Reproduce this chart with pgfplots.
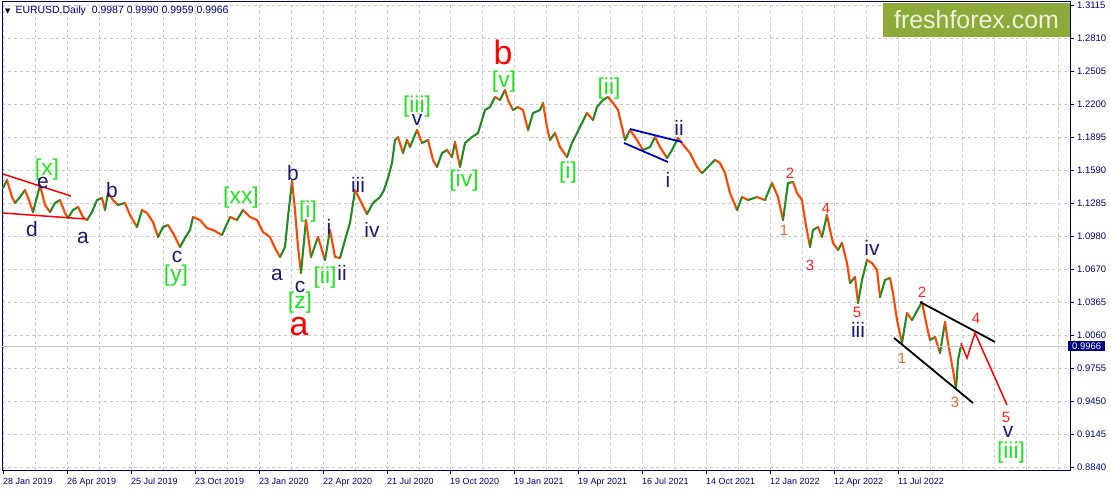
\documentclass[border=0pt]{standalone}
\usepackage{pgfplots}
\usepackage{pgfplotstable}
\pgfplotsset{compat=1.18}
\usepackage{fontspec}
\setmainfont{Liberation Sans}
\newfontfamily\dejavu{DejaVu Sans}

\definecolor{mtnavy}{RGB}{0,0,128}
\definecolor{lblnavy}{RGB}{25,25,112}
\definecolor{wavegreen}{RGB}{30,230,30}
\definecolor{candleup}{RGB}{34,139,34}
\definecolor{candledn}{RGB}{255,69,0}
\definecolor{gridgray}{RGB}{200,200,200}
\definecolor{wmolive}{RGB}{141,170,58}
\definecolor{numred}{RGB}{255,30,30}
\definecolor{numorange}{RGB}{230,100,40}

\newcommand\navyf{\fontsize{21}{21}\selectfont}
\newcommand\greenf{\fontsize{23}{23}\selectfont}
\newcommand\bigf{\fontsize{34}{34}\selectfont}
\newcommand\numf{\fontsize{15}{15}\selectfont}

% EURUSD daily closes, x = bar number from 28 Jan 2019
\pgfplotstableread{
x c
0 1.1426
4 1.1500
9 1.1343
12 1.1288
17 1.1343
22 1.1408
27 1.1288
30 1.1204
34 1.1343
37 1.1454
42 1.1269
47 1.1204
52 1.1288
57 1.1315
62 1.1195
65 1.1149
70 1.1223
75 1.1251
80 1.1158
84 1.1130
89 1.1204
94 1.1315
99 1.1334
102 1.1223
105 1.1380
110 1.1315
115 1.1269
122 1.1288
127 1.1177
134 1.1066
139 1.1223
144 1.1195
150 1.1112
155 1.0973
160 1.1066
165 1.1084
170 1.1010
177 1.0881
182 1.0964
187 1.1038
190 1.1158
197 1.1130
204 1.1056
210 1.1038
219 1.0992
227 1.1158
234 1.1130
240 1.1223
247 1.1158
254 1.1130
260 1.1019
267 1.0973
272 1.0871
277 1.0788
282 1.0881
285 1.1158
289 1.1491
292 1.1223
295 1.0881
298 1.0640
303 1.1130
308 1.0788
315 1.0973
322 1.0760
327 1.1038
332 1.0788
337 1.0779
342 1.0945
347 1.1103
352 1.1408
357 1.1315
364 1.1186
370 1.1288
377 1.1343
381 1.1408
385 1.1519
389 1.1658
392 1.1871
395 1.1898
400 1.1750
404 1.1871
407 1.1806
414 1.1963
419 1.1843
425 1.1871
430 1.1686
434 1.1621
439 1.1750
444 1.1778
449 1.1713
452 1.1852
457 1.1621
462 1.1843
469 1.1898
475 1.1935
479 1.2056
482 1.2148
487 1.2176
492 1.2268
497 1.2241
502 1.2333
505 1.2241
510 1.2148
515 1.2176
520 1.2148
525 1.1963
530 1.2120
537 1.2148
540 1.2213
544 1.1991
547 1.1871
552 1.1935
557 1.1806
564 1.1713
569 1.1843
574 1.1935
579 1.2028
584 1.2120
590 1.2056
594 1.2176
600 1.2241
605 1.2268
610 1.2213
615 1.2148
619 1.1991
622 1.1871
627 1.1963
634 1.1871
640 1.1778
647 1.1806
652 1.1898
657 1.1806
664 1.1704
669 1.1778
675 1.1889
682 1.1806
687 1.1750
694 1.1621
699 1.1565
705 1.1621
712 1.1686
717 1.1658
722 1.1565
727 1.1380
734 1.1223
739 1.1343
745 1.1315
754 1.1343
762 1.1315
769 1.1473
775 1.1343
780 1.1130
785 1.1473
790 1.1482
794 1.1380
799 1.1315
802 1.1130
807 1.0881
810 1.1038
815 1.1066
819 1.0973
824 1.1177
827 1.1038
830 1.0918
835 1.0853
839 1.0918
844 1.0732
847 1.0547
852 1.0603
855 1.0362
859 1.0575
864 1.0760
869 1.0732
874 1.0668
877 1.0418
882 1.0575
887 1.0594
890 1.0455
894 1.0205
899 0.9992
904 1.0270
909 1.0205
919 1.0372
924 1.0140
927 1.0020
932 1.0048
937 0.9900
942 1.0187
945 0.9992
950 0.9742
953 0.9570
955 0.9835
958 0.9966
}\eurusd

% colour of each segment: 1 when the next close is higher
\pgfplotstablegetrowsof{\eurusd}
\pgfmathtruncatemacro\lastrow{\pgfplotsretval-1}
\pgfplotstablecreatecol[
  create col/assign/.code={%
    \ifnum\pgfplotstablerow<\lastrow\relax
      \pgfmathtruncatemacro\updn{(\nextrow{c}>\thisrow{c})}%
    \else
      \def\updn{0}%
    \fi
    \pgfkeyslet{/pgfplots/table/create col/next content}\updn
  }]{up}{\eurusd}

\begin{document}
\begin{tikzpicture}
\path[use as bounding box] (-2bp,-21bp) rectangle (1109bp,470bp);
\begin{axis}[
    at={(0,0)}, anchor=south west,
    scale only axis, width=1068bp, height=469bp,
    xmin=-1, xmax=1067, ymin=0.8817, ymax=1.3157,
    clip=false,
    axis line style={mtnavy, line width=0.8bp},
    xtick={0,64,128,192,256,320,384,447,511,575,639,703,767,831,895},
    xticklabels={28 Jan 2019,26 Apr 2019,25 Jul 2019,23 Oct 2019,23 Jan 2020,22 Apr 2020,21 Jul 2020,19 Oct 2020,19 Jan 2021,19 Apr 2021,16 Jul 2021,14 Oct 2021,12 Jan 2022,12 Apr 2022,11 Jul 2022},
    minor xtick={32,96,160,224,288,352,416,479,543,607,671,735,799,863,927,959,991,1023,1055},
    ytick={1.3115,1.28096,1.25043,1.21989,1.18936,1.15882,1.12828,1.09775,1.06721,1.03668,1.00614,0.97560,0.94507,0.91453,0.88400},
    yticklabels={1.3115,1.2810,1.2505,1.2200,1.1895,1.1590,1.1285,1.0980,1.0670,1.0365,1.0060,0.9755,0.9450,0.9145,0.8840},
    xtick pos=left, ytick pos=right, yticklabel pos=right,
    tick align=outside,
    major tick length=4bp, minor tick length=0pt,
    tick style={mtnavy, line width=0.6bp},
    grid=both,
    major grid style={gridgray, dash pattern=on 3bp off 3bp, line width=0.6bp},
    minor grid style={gridgray, dash pattern=on 3bp off 3bp, line width=0.6bp},
    xticklabel style={font=\fontsize{9}{10}\selectfont, text=mtnavy, anchor=north west, inner sep=0pt, yshift=-4bp},
    yticklabel style={font=\fontsize{9.5}{10}\selectfont, text=mtnavy, anchor=west, inner sep=0pt, xshift=3bp},
]

% price path coloured like the candles
\addplot[mesh, shader=flat corner, point meta=\thisrow{up},
    point meta min=0, point meta max=1,
    colormap={updn}{color=(candledn) color=(candleup)},
    colormap access=piecewise constant,
    line width=2.1bp, line cap=round]
    table[x=x, y=c] {\eurusd};

% current price line
\draw[gray!45, line width=0.6bp] (axis cs:-1,0.9966) -- (axis cs:1067,0.9966);

% trend lines
\addplot[red, line width=1.5bp] coordinates {(0,1.1556) (68,1.1352)};
\addplot[red, line width=1.5bp] coordinates {(0,1.1195) (82,1.1140)};
\addplot[blue!80!black, line width=1.8bp] coordinates {(627,1.1972) (679,1.1852)};
\addplot[blue!80!black, line width=1.8bp] coordinates {(621,1.1843) (665,1.1667)};
\addplot[black, line width=1.8bp] coordinates {(917,1.0372) (992,1.0002)};
\addplot[black, line width=1.8bp] coordinates {(891,1.0039) (970,0.9437)};
% projected path
\addplot[red, line width=1.5bp] coordinates {(958,0.9990) (964,0.9853) (972,1.0085) (1004,0.9419)};

% wave labels, green
\begin{scope}[every node/.style={text=wavegreen, font=\greenf, inner sep=0pt}]
\node at (axis cs:44,1.1593) {[x]};
\node at (axis cs:173,1.0615) {[y]};
\node at (axis cs:238,1.1334) {[xx]};
\node at (axis cs:305,1.1204) {[i]};
\node at (axis cs:297,1.0362) {[z]};
\node at (axis cs:322,1.0594) {[ii]};
\node at (axis cs:414,1.2176) {[iii]};
\node at (axis cs:461,1.1491) {[iv]};
\node at (axis cs:501,1.2407) {[v]};
\node at (axis cs:565,1.1565) {[i]};
\node at (axis cs:606,1.2342) {[ii]};
\node at (axis cs:1008,0.8974) {[iii]};
\end{scope}

% wave labels, navy
\begin{scope}[every node/.style={text=lblnavy, font=\navyf, inner sep=0pt}]
\node at (axis cs:40,1.1473) {e};
\node at (axis cs:29,1.1047) {d};
\node at (axis cs:80,1.0964) {a};
\node at (axis cs:109,1.1408) {b};
\node at (axis cs:174,1.0790) {c};
\node at (axis cs:290,1.1565) {b};
\node at (axis cs:274,1.0621) {a};
\node at (axis cs:297,1.0510) {c};
\node at (axis cs:326,1.1066) {i};
\node at (axis cs:339,1.0640) {ii};
\node at (axis cs:355,1.1454) {iii};
\node at (axis cs:369,1.1038) {iv};
\node at (axis cs:414,1.2056) {v};
\node at (axis cs:665,1.1500) {i};
\node at (axis cs:676,1.1982) {ii};
\node at (axis cs:869,1.0871) {iv};
\node at (axis cs:855,1.0113) {iii};
\node at (axis cs:1005,0.9169) {v};
\end{scope}

% big red labels
\node[text=red, font=\bigf, inner sep=0pt] at (axis cs:500,1.2685) {b};
\node[text=red, font=\bigf, inner sep=0pt] at (axis cs:296,1.0140) {a};

% small numbers
\begin{scope}[every node/.style={font=\numf, inner sep=0pt}]
\node[text=numred] at (axis cs:787,1.1565) {2};
\node[text=numorange] at (axis cs:781,1.1038) {1};
\node[text=numred] at (axis cs:823,1.1241) {4};
\node[text=numred] at (axis cs:807,1.0714) {3};
\node[text=numred] at (axis cs:854,1.0279) {5};
\node[text=numred] at (axis cs:919,1.0464) {2};
\node[text=numorange] at (axis cs:899,0.9853) {1};
\node[text=numred] at (axis cs:973,1.0224) {4};
\node[text=numorange] at (axis cs:952,0.9446) {3};
\node[text=numred] at (axis cs:1003,0.9307) {5};
\end{scope}

% watermark
\fill[wmolive] (axis cs:880,1.2824) rectangle (axis cs:1067,1.3138);
\node[text={rgb,255:red,240;green,242;blue,220}, font=\fontsize{25}{25}\selectfont, inner sep=0pt]
    at (axis cs:973.5,1.2985) {freshforex.com};

% title
\node[anchor=west, inner sep=0pt, text=mtnavy, font=\fontsize{10.5}{11}\selectfont]
    at (axis cs:2,1.3064) {\textcolor{black}{\dejavu\fontsize{7}{7}\selectfont ▼}\hspace{5bp}EURUSD,Daily\hspace{6bp}0.9987 0.9990 0.9959 0.9966};

% current price box
\node[fill=mtnavy, text=white, anchor=west, inner xsep=4bp, inner ysep=1.5bp,
    font=\fontsize{9.5}{10}\selectfont] at (axis cs:1065,0.9966) {0.9966};
\end{axis}
\end{tikzpicture}
\end{document}
